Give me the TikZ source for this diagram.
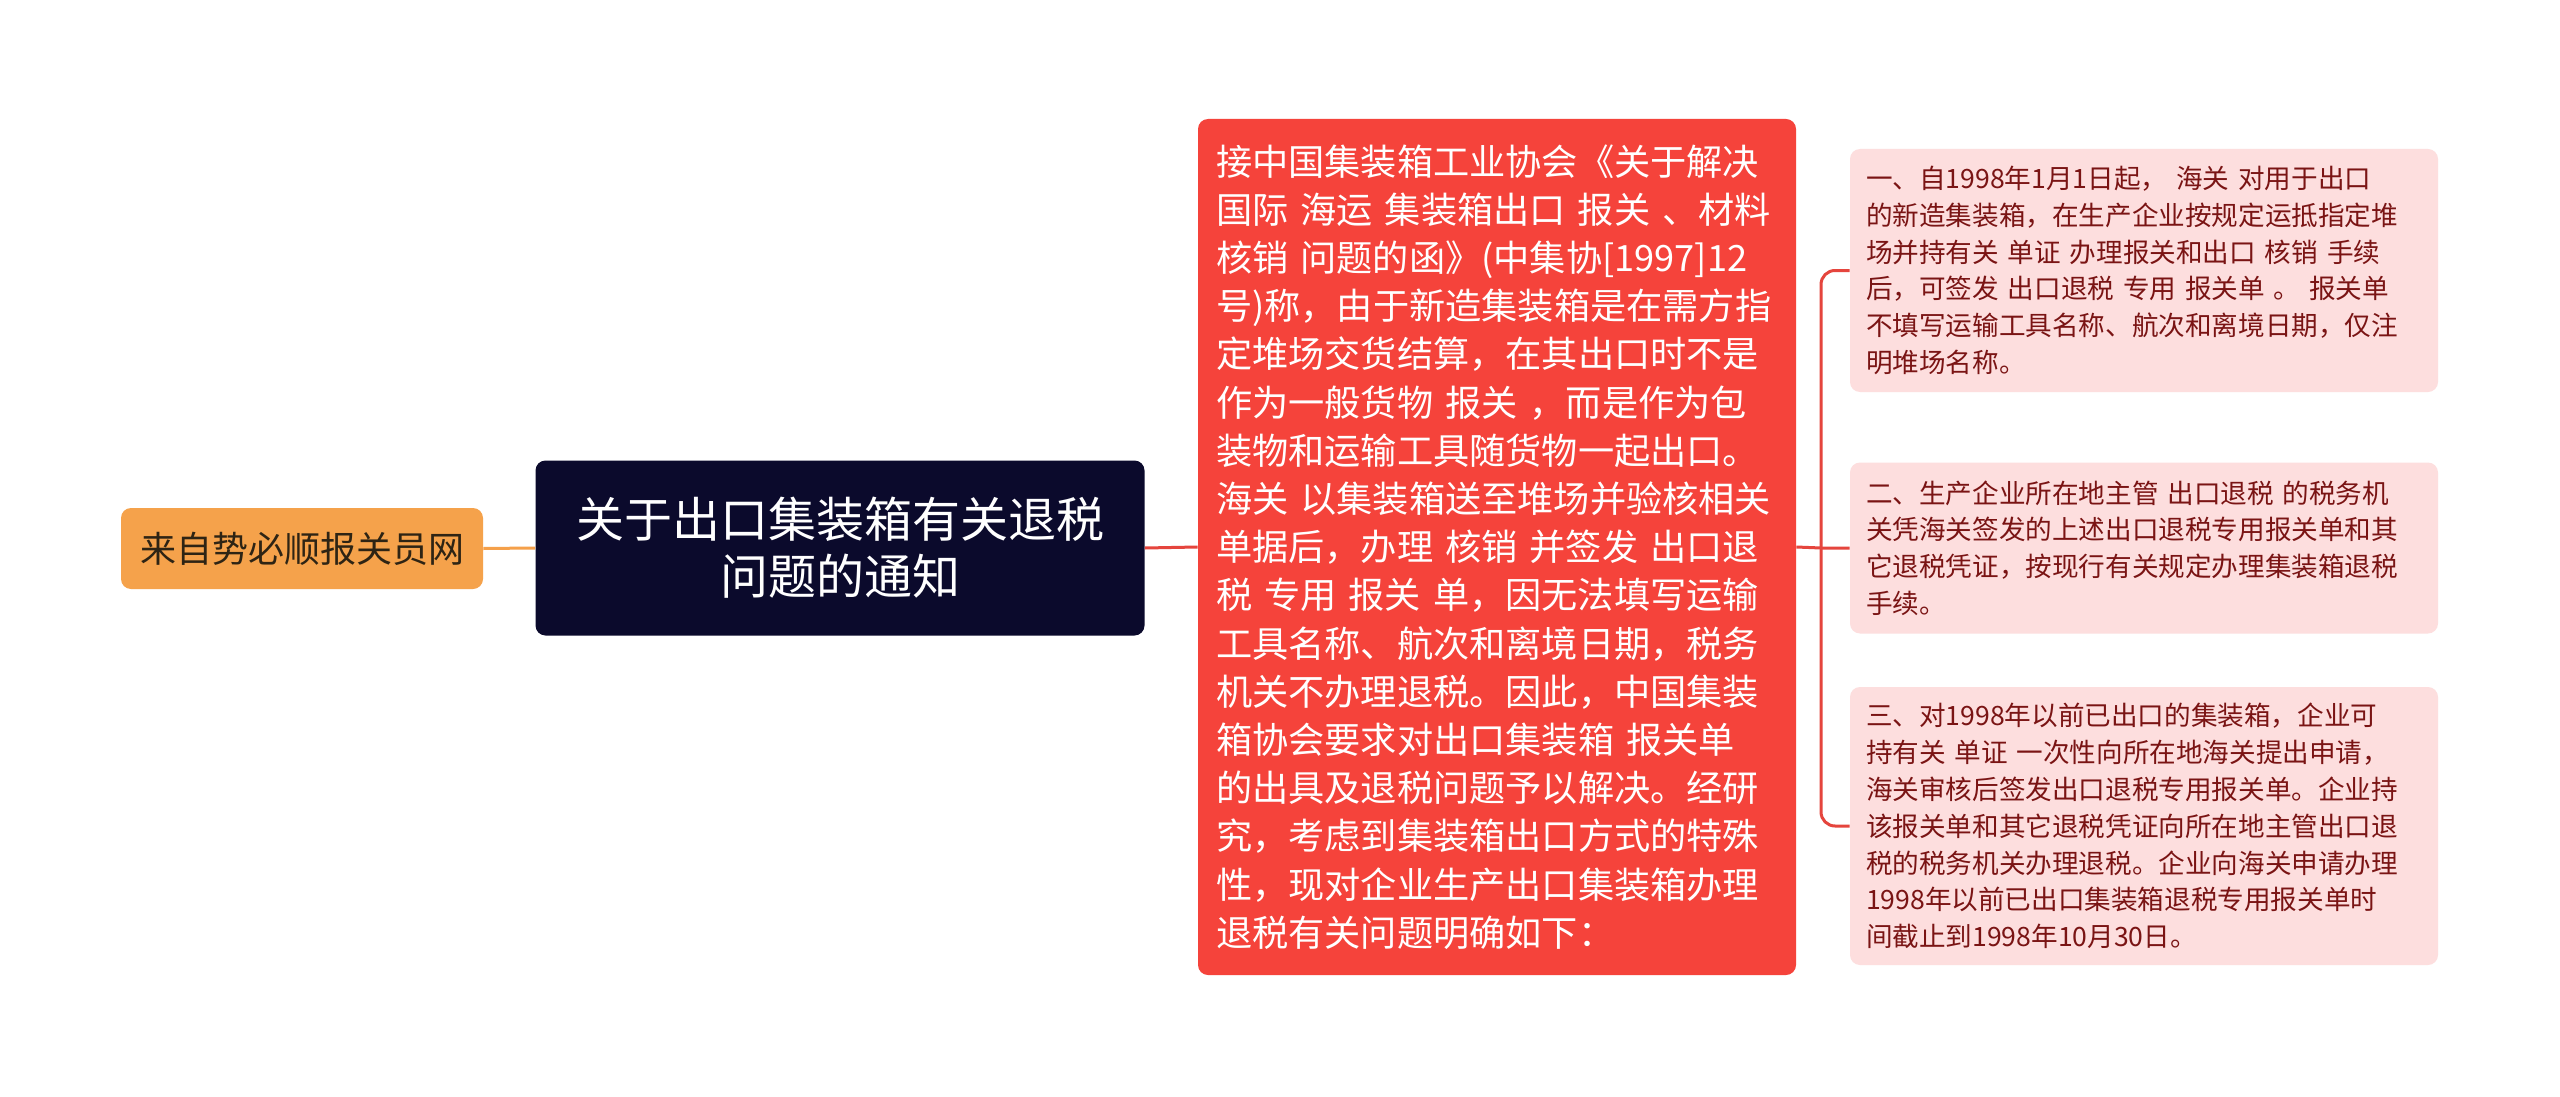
\documentclass[tikz,border=0pt]{standalone}
\usepackage{fontspec}
\setmainfont{Noto Sans CJK SC}
\definecolor{srcfill}{HTML}{F5A24B}
\definecolor{srctext}{HTML}{2E2414}
\definecolor{titlefill}{HTML}{0B0A2C}
\definecolor{mainfill}{HTML}{F5433B}
\definecolor{subfill}{HTML}{FDDEDE}
\definecolor{subtext}{HTML}{7A1414}
\definecolor{redline}{HTML}{E5453D}
\definecolor{orangeline}{HTML}{F5A04A}
\begin{document}
\begin{tikzpicture}[x=0.5pt,y=-0.5pt,
  box/.style={rounded corners=5pt, inner sep=0pt, draw=none},
  srcbox/.style={box, fill=srcfill, text=srctext, minimum width=181pt, minimum height=40.5pt,
    font=\fontsize{18pt}{22pt}\selectfont},
  titlebox/.style={box, fill=titlefill, text=white, minimum width=304.5pt, minimum height=87.5pt,
    align=center, font=\fontsize{24pt}{28.5pt}\selectfont},
  mainbox/.style={box, fill=mainfill, text=white, minimum width=299pt, minimum height=428pt,
    text width=281pt, align=left, font=\fontsize{18.1pt}{24.1pt}\selectfont},
  subbox/.style={box, fill=subfill, text=subtext, minimum width=294pt,
    text width=278pt, align=left, font=\fontsize{13.3pt}{18.4pt}\selectfont},
  redconn/.style={draw=redline, line width=1.5pt},
  orangeconn/.style={draw=orangeline, line width=1.5pt}
]
\useasboundingbox[fill=white] (0,0) rectangle (2560,1097);

\node[srcbox] (src) at (302,548.5) {来自势必顺报关员网};
\node[titlebox] (title) at (840,548) {关于出口集装箱有关退税\\问题的通知};
\node[mainbox] (main) at (1497,547) {接中国集装箱工业协会《关于解决\\
国际 海运 集装箱出口 报关 、材料\\
核销 问题的函》(中集协[1997]12\\
号)称，由于新造集装箱是在需方指\\
定堆场交货结算，在其出口时不是\\
作为一般货物 报关 ，而是作为包\\
装物和运输工具随货物一起出口。\\
海关 以集装箱送至堆场并验核相关\\
单据后，办理 核销 并签发 出口退\\
税 专用 报关 单，因无法填写运输\\
工具名称、航次和离境日期，税务\\
机关不办理退税。因此，中国集装\\
箱协会要求对出口集装箱 报关单\\
的出具及退税问题予以解决。经研\\
究，考虑到集装箱出口方式的特殊\\
性，现对企业生产出口集装箱办理\\
退税有关问题明确如下：};

\node[subbox, minimum height=121.5pt] (s1) at (2144,270.5) {一、自1998年1月1日起， 海关 对用于出口\\
的新造集装箱，在生产企业按规定运抵指定堆\\
场并持有关 单证 办理报关和出口 核销 手续\\
后，可签发 出口退税 专用 报关单 。 报关单\\
不填写运输工具名称、航次和离境日期，仅注\\
明堆场名称。};
\node[subbox, minimum height=85.5pt] (s2) at (2144,548) {二、生产企业所在地主管 出口退税 的税务机\\
关凭海关签发的上述出口退税专用报关单和其\\
它退税凭证，按现行有关规定办理集装箱退税\\
手续。};
\node[subbox, minimum height=139pt] (s3) at (2144,826) {三、对1998年以前已出口的集装箱，企业可\\
持有关 单证 一次性向所在地海关提出申请，\\
海关审核后签发出口退税专用报关单。企业持\\
该报关单和其它退税凭证向所在地主管出口退\\
税的税务机关办理退税。企业向海关申请办理\\
1998年以前已出口集装箱退税专用报关单时\\
间截止到1998年10月30日。};

\draw[orangeconn] (src.east) -- (title.west);
\draw[redconn] (title.east) -- (main.west);
\coordinate (fork) at (1821,548);
\draw[redconn] (main.east) -- (fork) -- (s2.west);
\draw[redconn, rounded corners=7pt] (fork) |- (s1.west);
\draw[redconn, rounded corners=7pt] (fork) |- (s3.west);
\end{tikzpicture}
\end{document}
